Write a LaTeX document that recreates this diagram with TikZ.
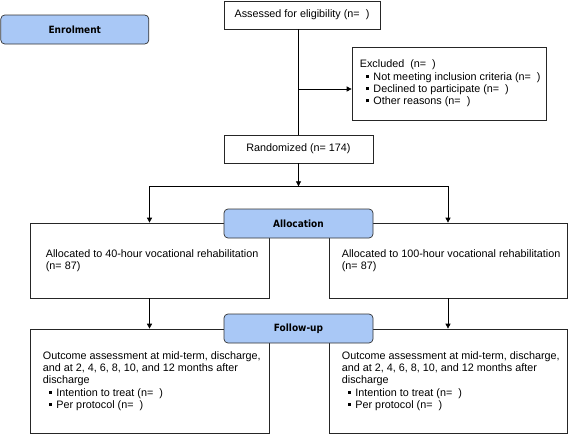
\documentclass[tikz,border=0pt]{standalone}
\usepackage{fontspec}
\setmainfont{Liberation Sans}
\newfontfamily\hdrfont{DejaVu Sans Condensed}
\usetikzlibrary{arrows.meta}
\definecolor{hdrblue}{HTML}{A9C8F6}
\newcommand\mybul{\hspace*{6pt}\rule[2.4pt]{3pt}{3pt}\hspace{4.6pt}}
\begin{document}
\begin{tikzpicture}[x=1pt,y=-1pt,
  box/.style={draw=black!85, line width=0.7pt, rectangle, inner sep=0pt, fill=white,
    font=\fontsize{10.8}{12.3}\selectfont},
  hdr/.style={draw=black!80, line width=0.7pt, rounded corners=4pt, fill=hdrblue,
    inner sep=0pt, minimum width=149pt, minimum height=29pt,
    font=\hdrfont\bfseries\fontsize{10}{12}\selectfont},
  txt/.style={align=left, inner sep=0pt, anchor=west,
    font=\fontsize{10.8}{12.3}\selectfont},
  conn/.style={line width=0.7pt, draw=black},
  arr/.style={conn, -{Triangle[length=5pt,width=5pt]}}
]
\useasboundingbox (0,0) rectangle (568,434);

% boxes
\node[box, minimum width=156pt, minimum height=28pt] (assess) at (302,15) {Assessed for eligibility (n=\ \ )};
\node[box, minimum width=149pt, minimum height=28pt] (rand) at (298.5,149) {Randomized (n= 174)};
\node[box, minimum width=194pt, minimum height=73pt] (excl) at (449,83.5) {};
\node[txt] (excltxt) at ([xshift=8pt]excl.west) {Excluded\ \ (n=\ \ )\\
  \mybul Not meeting inclusion criteria (n=\ \ )\\
  \mybul Declined to participate (n=\ \ )\\
  \mybul Other reasons (n=\ \ )};

\node[box, minimum width=239pt, minimum height=75pt] (allocL) at (149.5,260.5) {};
\node[txt] (allocLtxt) at ([xshift=16pt]allocL.west) {Allocated to 40-hour vocational rehabilitation\\(n= 87)};
\node[box, minimum width=238pt, minimum height=75pt] (allocR) at (448,260.5) {};
\node[txt] (allocRtxt) at ([xshift=13pt]allocR.west) {Allocated to 100-hour vocational rehabilitation\\(n= 87)};

\node[box, minimum width=239pt, minimum height=104pt] (outL) at (149.5,381) {};
\node[txt] (outLtxt) at ([xshift=13pt]outL.west) {Outcome assessment at mid-term, discharge,\\
  and at 2, 4, 6, 8, 10, and 12 months after\\
  discharge\\
  \mybul Intention to treat (n=\ \ )\\
  \mybul Per protocol (n=\ \ )};
\node[box, minimum width=238pt, minimum height=104pt] (outR) at (448,381) {};
\node[txt] (outRtxt) at ([xshift=13pt]outR.west) {Outcome assessment at mid-term, discharge,\\
  and at 2, 4, 6, 8, 10, and 12 months after\\
  discharge\\
  \mybul Intention to treat (n=\ \ )\\
  \mybul Per protocol (n=\ \ )};

% connectors
\draw[conn] (assess.south -| rand.north) -- (rand.north);
\coordinate (exb) at (298.5,89);
\draw[arr] (exb) -- (exb -| excl.west);
\draw[arr] (rand.south) -- ++(0,23) coordinate (split);
\draw[conn] (allocL.north |- split) -- (allocR.north |- split);
\draw[arr] (allocL.north |- split) -- (allocL.north);
\draw[arr] (allocR.north |- split) -- (allocR.north);
\draw[arr] (allocL.south) -- (outL.north);
\draw[arr] (allocR.south) -- (outR.north);

% headers
\node[hdr, minimum width=148pt] (enrol) at (74.8,29.5) {Enrolment};
\node[hdr] (alloc) at (298.5,223.5) {Allocation};
\node[hdr] (follow) at (298.5,328.5) {Follow-up};
\end{tikzpicture}
\end{document}
